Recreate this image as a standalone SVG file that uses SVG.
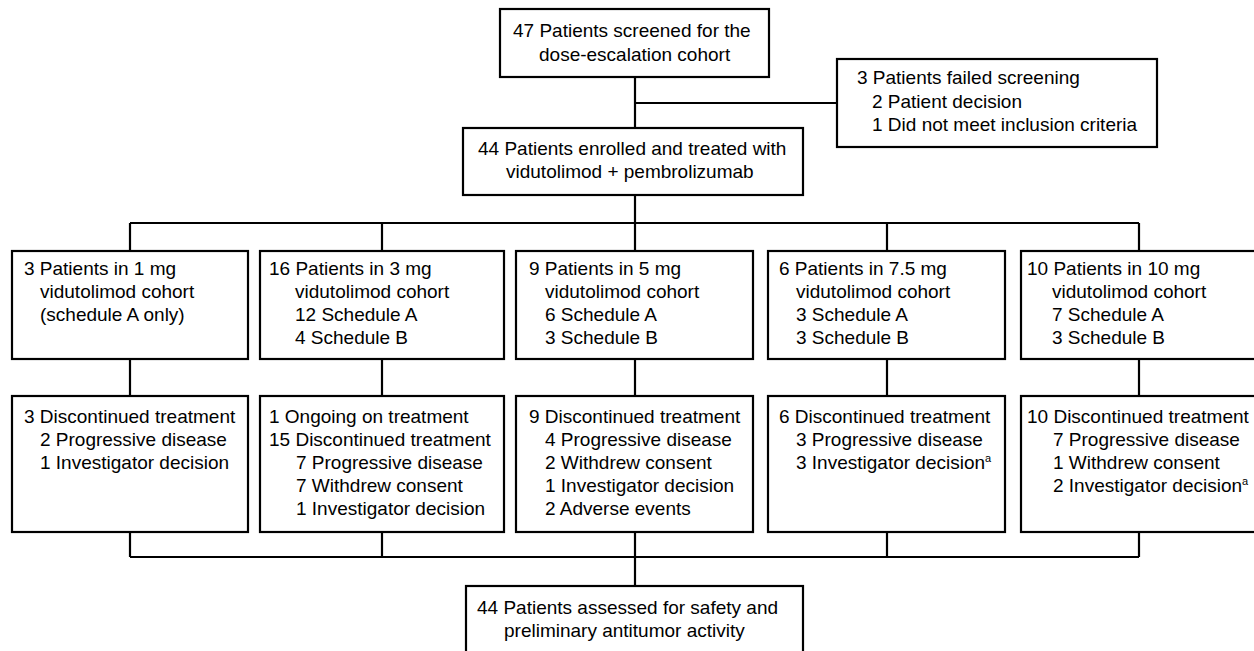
<svg xmlns="http://www.w3.org/2000/svg" width="1254" height="651" viewBox="0 0 1254 651">
<style>
.box{fill:#fff;stroke:#000;stroke-width:2.2}
.ln{fill:none;stroke:#000;stroke-width:2.2}
text{font-family:"Liberation Sans",Arial,sans-serif;font-size:19px;fill:#000}
.sup{font-size:11px}
</style>
<rect width="1254" height="651" fill="#fff"/>
<g id="connectors">
<path class="ln" d="M635 77V128M635 103H837"/>
<path class="ln" d="M635 195V223M130 223H1139M130 223V251M382 223V251M635 223V251M887 223V251M1139 223V251"/>
<path class="ln" d="M130 359V396M382 359V396M635 359V396M887 359V396M1139 359V396"/>
<path class="ln" d="M130 532V557M382 532V557M635 532V557M887 532V557M1139 532V557M130 557H1139M635 557V586"/>
</g>
<g id="screened">
<rect class="box" x="500" y="9" width="269" height="68"/>
<text x="513" y="37">47 Patients screened for the</text>
<text x="539" y="61">dose-escalation cohort</text>
</g>
<g id="failed">
<rect class="box" x="837" y="59" width="320" height="88"/>
<text x="857" y="84">3 Patients failed screening</text>
<text x="872" y="108">2 Patient decision</text>
<text x="872" y="131">1 Did not meet inclusion criteria</text>
</g>
<g id="enrolled">
<rect class="box" x="463" y="128" width="340" height="67"/>
<text x="478" y="155">44 Patients enrolled and treated with</text>
<text x="506" y="178">vidutolimod + pembrolizumab</text>
</g>
<g id="c1">
<rect class="box" x="12" y="251" width="236" height="108"/>
<text x="24" y="275">3 Patients in 1 mg</text>
<text x="40" y="298">vidutolimod cohort</text>
<text x="40" y="321">(schedule A only)</text>
</g>
<g id="c3">
<rect class="box" x="260" y="251" width="244" height="108"/>
<text x="269" y="275">16 Patients in 3 mg</text>
<text x="295" y="298">vidutolimod cohort</text>
<text x="295" y="321">12 Schedule A</text>
<text x="295" y="344">4 Schedule B</text>
</g>
<g id="c5">
<rect class="box" x="516" y="251" width="237" height="108"/>
<text x="529" y="275">9 Patients in 5 mg</text>
<text x="545" y="298">vidutolimod cohort</text>
<text x="545" y="321">6 Schedule A</text>
<text x="545" y="344">3 Schedule B</text>
</g>
<g id="c75">
<rect class="box" x="768" y="251" width="237" height="108"/>
<text x="779" y="275">6 Patients in 7.5 mg</text>
<text x="796" y="298">vidutolimod cohort</text>
<text x="796" y="321">3 Schedule A</text>
<text x="796" y="344">3 Schedule B</text>
</g>
<g id="c10">
<rect class="box" x="1021" y="251" width="240" height="108"/>
<text x="1027" y="275">10 Patients in 10 mg</text>
<text x="1052" y="298">vidutolimod cohort</text>
<text x="1052" y="321">7 Schedule A</text>
<text x="1052" y="344">3 Schedule B</text>
</g>
<g id="d1">
<rect class="box" x="12" y="396" width="236" height="136"/>
<text x="24" y="423">3 Discontinued treatment</text>
<text x="40" y="446">2 Progressive disease</text>
<text x="40" y="469">1 Investigator decision</text>
</g>
<g id="d3">
<rect class="box" x="260" y="396" width="244" height="136"/>
<text x="269" y="423">1 Ongoing on treatment</text>
<text x="269" y="446">15 Discontinued treatment</text>
<text x="296" y="469">7 Progressive disease</text>
<text x="296" y="492">7 Withdrew consent</text>
<text x="296" y="515">1 Investigator decision</text>
</g>
<g id="d5">
<rect class="box" x="516" y="396" width="237" height="136"/>
<text x="529" y="423">9 Discontinued treatment</text>
<text x="545" y="446">4 Progressive disease</text>
<text x="545" y="469">2 Withdrew consent</text>
<text x="545" y="492">1 Investigator decision</text>
<text x="545" y="515">2 Adverse events</text>
</g>
<g id="d75">
<rect class="box" x="768" y="396" width="237" height="136"/>
<text x="779" y="423">6 Discontinued treatment</text>
<text x="796" y="446">3 Progressive disease</text>
<text x="796" y="469">3 Investigator decision<tspan class="sup" dy="-7">a</tspan></text>
</g>
<g id="d10">
<rect class="box" x="1021" y="396" width="240" height="136"/>
<text x="1027" y="423">10 Discontinued treatment</text>
<text x="1053" y="446">7 Progressive disease</text>
<text x="1053" y="469">1 Withdrew consent</text>
<text x="1053" y="492">2 Investigator decision<tspan class="sup" dy="-7">a</tspan></text>
</g>
<g id="assessed">
<rect class="box" x="466" y="586" width="337" height="70"/>
<text x="477" y="614">44 Patients assessed for safety and</text>
<text x="504" y="637">preliminary antitumor activity</text>
</g>
</svg>
